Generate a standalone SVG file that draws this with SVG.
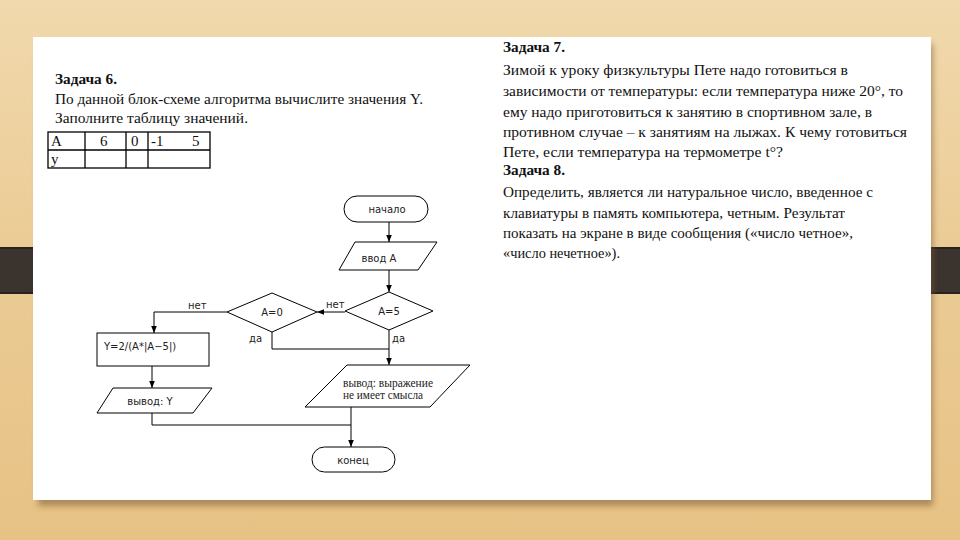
<svg xmlns="http://www.w3.org/2000/svg" width="960" height="540" viewBox="0 0 960 540">
<defs>
<linearGradient id="wood" x1="0" y1="0" x2="0" y2="1">
<stop offset="0" stop-color="#f1d9ad"/>
<stop offset="0.45" stop-color="#ebcc96"/>
<stop offset="1" stop-color="#e7c285"/>
</linearGradient>
<filter id="sh" x="-5%" y="-5%" width="110%" height="115%">
<feGaussianBlur stdDeviation="3"/>
</filter>
<marker id="arr" viewBox="0 0 10 10" refX="10" refY="5" markerWidth="7" markerHeight="7" orient="auto" markerUnits="userSpaceOnUse">
<path d="M0,1 L10,5 L0,9 z" fill="#000"/>
</marker>
<style>
.tx{font-family:"Liberation Serif","Times New Roman",serif;font-size:15px;fill:#111}
.b{font-weight:bold}
.tb{font-family:"Liberation Serif","Times New Roman",serif;font-size:15px;fill:#111}
.fc{font-family:"DejaVu Sans","Verdana",sans-serif;font-size:10px;fill:#222}
.fs{font-family:"Liberation Serif","Times New Roman",serif;font-size:11.5px;fill:#222}
.sh{fill:none;stroke:#000;stroke-width:1}
.ln{fill:none;stroke:#000;stroke-width:1}
</style>
</defs>
<rect width="960" height="540" fill="url(#wood)"/>
<rect x="0" y="247" width="960" height="47" fill="#2a211b"/>
<rect x="0" y="249" width="960" height="43" fill="#3b332d"/>
<rect x="38" y="44" width="895" height="462" fill="#7a5a30" opacity="0.55" filter="url(#sh)"/>
<rect x="33" y="37" width="898" height="463" fill="#fff"/>

<g id="task6">
<text class="tx b" x="55" y="84" textLength="62" lengthAdjust="spacingAndGlyphs">Задача 6.</text>
<text class="tx" x="55" y="104" textLength="368" lengthAdjust="spacingAndGlyphs">По данной блок-схеме алгоритма вычислите значения Y.</text>
<text class="tx" x="55" y="123" textLength="193" lengthAdjust="spacingAndGlyphs">Заполните таблицу значений.</text>
</g>
<g id="table" fill="none" stroke="#000" stroke-width="1.3">
<rect x="48" y="132" width="162" height="36"/>
<line x1="48" y1="150" x2="210" y2="150"/>
<line x1="85" y1="132" x2="85" y2="168"/>
<line x1="126" y1="132" x2="126" y2="168"/>
<line x1="148" y1="132" x2="148" y2="168"/>
</g>
<g id="table-text" class="tb">
<text x="51" y="146">A</text>
<text x="100" y="146">6</text>
<text x="131" y="146">0</text>
<text x="151" y="146">-1</text>
<text x="192" y="146">5</text>
<text x="51" y="164">у</text>
</g>

<g id="task78">
<text class="tx b" x="503" y="52" textLength="62" lengthAdjust="spacingAndGlyphs">Задача 7.</text>
<text class="tx" x="503" y="75" textLength="345" lengthAdjust="spacingAndGlyphs">Зимой к уроку физкультуры Пете надо готовиться в</text>
<text class="tx" x="503" y="96" textLength="400" lengthAdjust="spacingAndGlyphs">зависимости от температуры: если температура ниже 20°, то</text>
<text class="tx" x="503" y="117" textLength="369" lengthAdjust="spacingAndGlyphs">ему надо приготовиться к занятию в спортивном зале, в</text>
<text class="tx" x="503" y="137" textLength="404" lengthAdjust="spacingAndGlyphs">противном случае – к занятиям на лыжах. К чему готовиться</text>
<text class="tx" x="503" y="157" textLength="280" lengthAdjust="spacingAndGlyphs">Пете, если температура на термометре t°?</text>
<text class="tx b" x="503" y="175" textLength="62" lengthAdjust="spacingAndGlyphs">Задача 8.</text>
<text class="tx" x="503" y="197" textLength="370" lengthAdjust="spacingAndGlyphs">Определить, является ли натуральное число, введенное с</text>
<text class="tx" x="503" y="218" textLength="342" lengthAdjust="spacingAndGlyphs">клавиатуры в память компьютера, четным. Результат</text>
<text class="tx" x="503" y="238" textLength="350" lengthAdjust="spacingAndGlyphs">показать на экране в виде сообщения («число четное»,</text>
<text class="tx" x="503" y="258" textLength="117" lengthAdjust="spacingAndGlyphs">«число нечетное»).</text>
</g>

<g id="connectors">
<line class="ln" x1="389" y1="222" x2="389" y2="242" marker-end="url(#arr)"/>
<line class="ln" x1="389" y1="270" x2="389" y2="292" marker-end="url(#arr)"/>
<line class="ln" x1="345" y1="312" x2="317" y2="312" marker-end="url(#arr)"/>
<polyline class="ln" points="227,312 154,312 154,333" marker-end="url(#arr)"/>
<line class="ln" x1="389" y1="330" x2="389" y2="365" marker-end="url(#arr)"/>
<polyline class="ln" points="272,332 272,349 389,349"/>
<line class="ln" x1="152" y1="366" x2="152" y2="388" marker-end="url(#arr)"/>
<line class="ln" x1="351" y1="407" x2="351" y2="447" marker-end="url(#arr)"/>
<polyline class="ln" points="152,413 152,425 351,425"/>
<text class="fc" x="326" y="308">нет</text>
<text class="fc" x="188" y="309">нет</text>
<text class="fc" x="392" y="342">да</text>
<text class="fc" x="249" y="342">да</text>
</g>

<g id="start">
<rect class="sh" x="344" y="196" width="84" height="26" rx="13" fill="#fff"/>
<text class="fc" x="387" y="213" text-anchor="middle">начало</text>
</g>
<g id="input">
<polygon class="sh" points="355,242 437,242 418,270 339,270" fill="#fff"/>
<text class="fc" x="379" y="262" text-anchor="middle">ввод А</text>
</g>
<g id="cond-a5">
<polygon class="sh" points="389,292 433,311 389,330 345,311" fill="#fff"/>
<text class="fc" x="389" y="315" text-anchor="middle">A=5</text>
</g>
<g id="cond-a0">
<polygon class="sh" points="272,293 317,312 272,332 227,312" fill="#fff"/>
<text class="fc" x="272" y="316" text-anchor="middle">A=0</text>
</g>
<g id="calc">
<rect class="sh" x="97" y="333" width="112" height="33" fill="#fff"/>
<text class="fc" x="104" y="350">Y=2/(A*|A−5|)</text>
</g>
<g id="outY">
<polygon class="sh" points="113,388 212,388 193,413 97,413" fill="#fff"/>
<text class="fc" x="150" y="405" text-anchor="middle">вывод: Y</text>
</g>
<g id="outMsg">
<polygon class="sh" points="347,365 470,365 430,407 305,407" fill="#fff"/>
<text class="fs" x="343" y="387" textLength="90" lengthAdjust="spacingAndGlyphs">вывод: выражение</text>
<text class="fs" x="343" y="399" textLength="80" lengthAdjust="spacingAndGlyphs">не имеет смысла</text>
</g>
<g id="end">
<rect class="sh" x="312" y="447" width="83" height="25" rx="12.5" fill="#fff"/>
<text class="fc" x="353" y="464" text-anchor="middle">конец</text>
</g>
</svg>
